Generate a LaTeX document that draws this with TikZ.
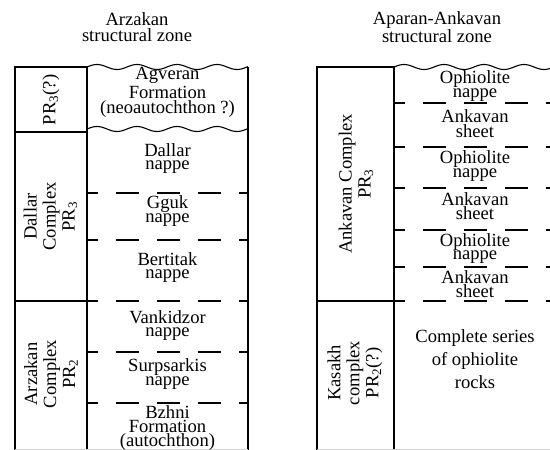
\documentclass[tikz,border=0pt]{standalone}
\usepackage{fontspec}
\setmainfont{Liberation Serif}
\usepackage{tikz}

\tikzset{
  unit/.style={align=center,inner sep=0pt,font=\fontsize{18.6bp}{13.6bp}\selectfont},
  zonetitle/.style={align=center,inner sep=0pt,font=\fontsize{18.6bp}{16.7bp}\selectfont},
  cplx/.style={rotate=90,align=center,inner sep=0pt,font=\fontsize{18.6bp}{19bp}\selectfont},
  thrust/.style={dash pattern=on 23bp off 18bp,dash phase=12bp},
  wave/.style={samples=120,smooth}
}

\begin{document}
\begin{tikzpicture}[x=1bp,y=-1bp,line width=1.1bp]
  \useasboundingbox (0,0) rectangle (550,450);
  \clip (0,0) rectangle (550,450);
  % Arzakan zone
  \node[zonetitle] (zoneA) at (137,27) {Arzakan\\structural zone};
  \draw (15,450) -- (15,67) coordinate (a1) -- (87,67) coordinate (a2) -- (87,450);
  \draw (248,67) coordinate (a3) -- (248,450);
  \draw[line width=1.4bp] (15,132) -- (87,132);
  \draw[line width=1.4bp] (15,301) -- (87,301);
  \draw[wave] plot[domain=87:248] (\x,{67-2.5*sin(9*(\x-87))});
  \draw[wave] plot[domain=87:248] (\x,{129-2.5*sin(9*(\x-87))});
  \foreach \y in {193,240,301,352,403} \draw[thrust] (87,\y) -- (248,\y);
  \draw[gray!35,line width=.6bp] (15,449.5) -- (248,449.5);
  \node[cplx] (pra) at (51,100) {PR\textsubscript{3}(?)};
  \node[cplx] (dallar) at (50.5,216.5) {Dallar\\Complex\\PR\textsubscript{3}};
  \node[cplx] (arzakan) at (51,374) {Arzakan\\Complex\\PR\textsubscript{2}};
  \node[unit] (agveran) at (167.5,92) {Agveran\\[1.4bp]Formation\\[1.4bp](neoautochthon ?)};
  \node[unit] (dal) at (167.5,158.5) {Dallar\\nappe};
  \node[unit] (gguk) at (167.5,211) {Gguk\\nappe};
  \node[unit] (bert) at (167.5,267.5) {Bertitak\\nappe};
  \node[unit] (vank) at (167.5,325.5) {Vankidzor\\nappe};
  \node[unit] (surp) at (167.5,374) {Surpsarkis\\nappe};
  \node[unit] (bzhni) at (167.5,428) {Bzhni\\Formation\\(autochthon)};
  % Aparan-Ankavan zone
  \node[zonetitle] (zoneB) at (437,27) {Aparan-Ankavan\\structural zone};
  \draw (317,450) -- (317,67) coordinate (b1) -- (394,67) coordinate (b2) -- (394,450);
  \draw[line width=1.4bp] (317,301) -- (394,301);
  \draw[wave] plot[domain=394:556] (\x,{67-2.5*sin(9*(\x-394))});
  \foreach \y in {103,147,188,230,267,301} \draw[thrust] (394,\y) -- (556,\y);
  \draw[gray!35,line width=.6bp] (317,449.5) -- (550,449.5);
  \node[cplx] (ankC) at (356,184) {Ankavan Complex\\PR\textsubscript{3}};
  \node[cplx] (kasakh) at (355,373) {Kasakh\\complex\\PR\textsubscript{2}(?)};
  \node[unit] (oph1) at (475,86) {Ophiolite\\nappe};
  \node[unit] (ank1) at (475,123.5) {Ankavan\\[1.1bp]sheet};
  \node[unit] (oph2) at (475,166) {Ophiolite\\nappe};
  \node[unit] (ank2) at (475,206) {Ankavan\\[1.1bp]sheet};
  \node[unit] (oph3) at (475,248.5) {Ophiolite\\nappe};
  \node[unit] (ank3) at (475,284) {Ankavan\\[1.1bp]sheet};
  \node[unit] (ophser) at (475,359) {Complete series\\[5bp]of ophiolite\\[5bp]rocks};
\end{tikzpicture}
\end{document}
